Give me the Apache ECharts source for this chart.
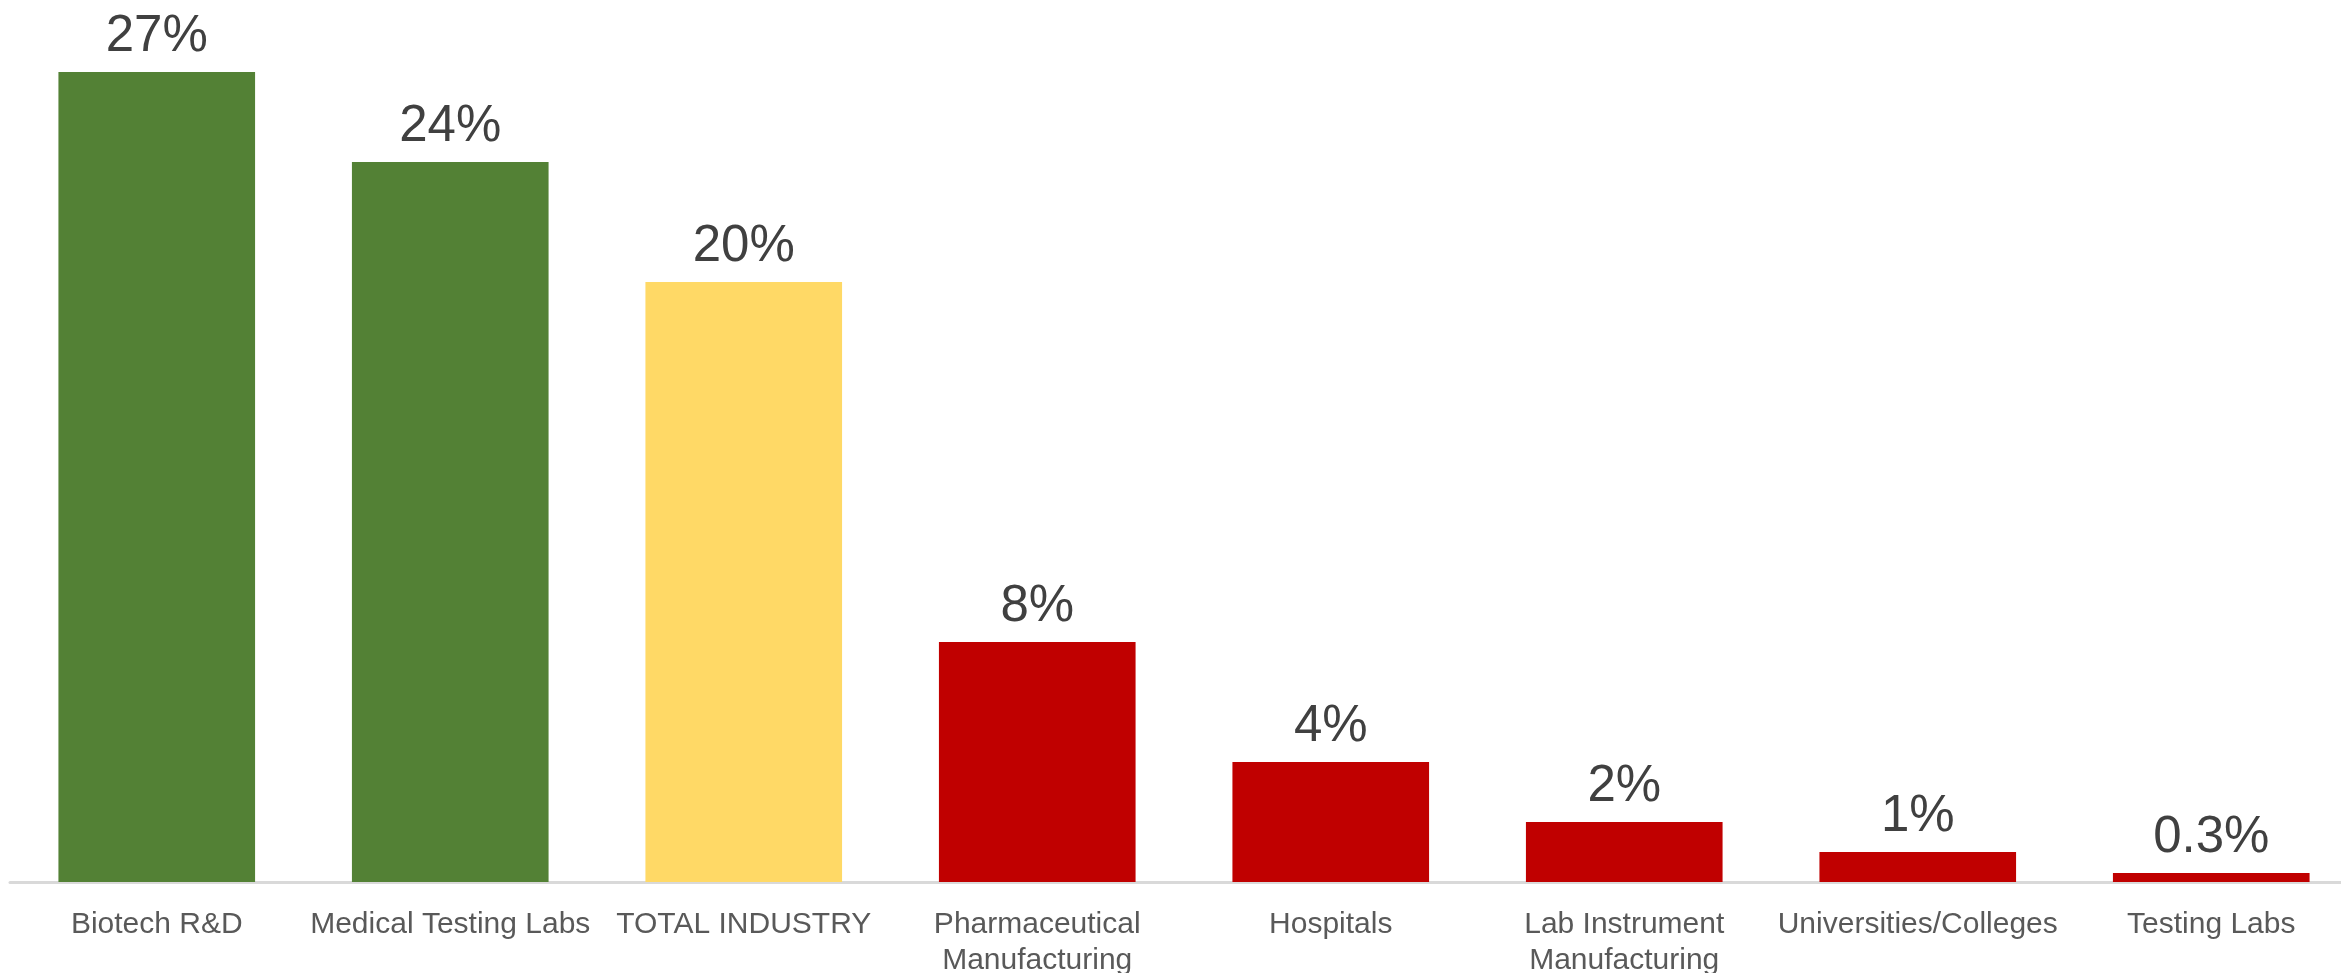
<!DOCTYPE html>
<html>
<head>
<meta charset="utf-8">
<script src="https://cdn.jsdelivr.net/npm/echarts@6/dist/echarts.min.js"></script>
<style>html,body{margin:0;padding:0;background:#fff;}#c{width:2341px;height:973px;}</style>
</head>
<body>
<div id="c"></div>
<script>
const categories = ["Biotech R&D", "Medical Testing Labs", "TOTAL INDUSTRY", "Pharmaceutical\nManufacturing", "Hospitals", "Lab Instrument\nManufacturing", "Universities/Colleges", "Testing Labs"];
const values = [27, 24, 20, 8, 4, 2, 1, 0.3];
const barColors = ["#538135", "#538135", "#FFD966", "#C00000", "#C00000", "#C00000", "#C00000", "#C00000"];

const chart = echarts.init(document.getElementById('c'));
chart.setOption({
  animation: false,
  grid: { left: 10, width: 2348, top: 0, height: 882, containLabel: false, outerBoundsMode: 'none' },
  xAxis: {
    type: 'category',
    data: categories,
    axisLine: { lineStyle: { color: '#D9D9D9', width: 3 } },
    axisTick: { show: false },
    axisLabel: {
      color: '#595959',
      fontFamily: 'Liberation Sans, Arial, sans-serif',
      fontSize: 30,
      lineHeight: 36,
      margin: 25,
      interval: 0
    }
  },
  yAxis: {
    type: 'value', min: 0, max: 29.4, show: false,
    splitLine: { show: false }
  },
  series: [{
    type: 'bar',
    barWidth: '67%',
    data: values.map((v, i) => ({ value: v, itemStyle: { color: barColors[i] } })),
    label: {
      show: true,
      position: 'top',
      distance: 10,
      color: '#404040',
      fontFamily: 'Liberation Sans, Arial, sans-serif',
      fontSize: 51,
      formatter: p => p.value + '%'
    }
  }]
});
</script>
</body>
</html>
